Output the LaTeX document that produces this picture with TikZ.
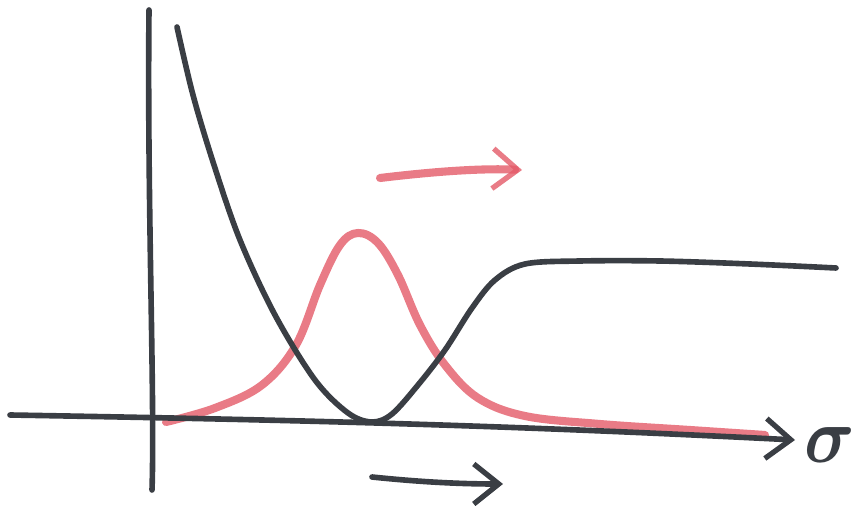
\documentclass[tikz,border=0pt]{standalone}
\usetikzlibrary{arrows.meta}
\usepackage{bm}
\definecolor{penblack}{HTML}{3A3E44}
\definecolor{penred}{HTML}{E45A68}
\tikzset{
  >={Straight Barb[length=5mm,width=8mm,line width=3pt]},
  penline/.style={draw=penblack, line width=3.2pt, line cap=round, line join=round},
  redline/.style={draw=penred, line width=4.6pt, line cap=round, line join=round, opacity=0.8},
  axislabel/.style={font=\Huge, text=penblack, inner sep=0pt},
}

\begin{document}
\begin{tikzpicture}[x=0.02cm, y=-0.02cm]
  \useasboundingbox (0,0) rectangle (853,506);

  % axes
  \coordinate (ytop) at (149,10);
  \coordinate (ybot) at (152,490);
  \coordinate (xleft) at (10,415);
  \coordinate (xright) at (795,440);
  \node[axislabel] (sigma) at (830,445) {\scalebox{1.6}[1.8]{$\bm{\sigma}$}};

  % red bell curve (drawn first, under the black lines)
  \draw[redline] plot[smooth, tension=0.6] coordinates {
    (166,422) (215,408) (262,385) (296,345) (320,285) (340,245) (358,233)
    (378,243) (398,275) (420,325) (445,365) (478,398) (525,416) (600,424)
    (690,430) (765,435)};

  \draw[penline] (ytop) .. controls (147,200) and (155,400) .. (ybot);
  \draw[penline, ->] (xleft) .. controls (300,420) and (500,425) .. (xright);

  % black curve: decay, then rising step
  \draw[penline] plot[smooth, tension=0.55] coordinates {
    (177,27) (193,95) (214,165) (240,240) (275,315) (315,380) (348,413)
    (372,422) (392,414) (418,385) (445,350) (472,308) (495,280) (525,264)
    (580,261) (660,261) (750,264) (836,268)};

  % shift arrows
  \coordinate (redstart) at (380,178);
  \coordinate (redend) at (522,170);
  \draw[redline, ->] (redstart) .. controls (430,172) and (480,168) .. (redend);
  \coordinate (blkstart) at (372,477);
  \coordinate (blkend) at (503,484);
  \draw[penline, ->] (blkstart) .. controls (420,482) and (460,484) .. (blkend);
\end{tikzpicture}
\end{document}
